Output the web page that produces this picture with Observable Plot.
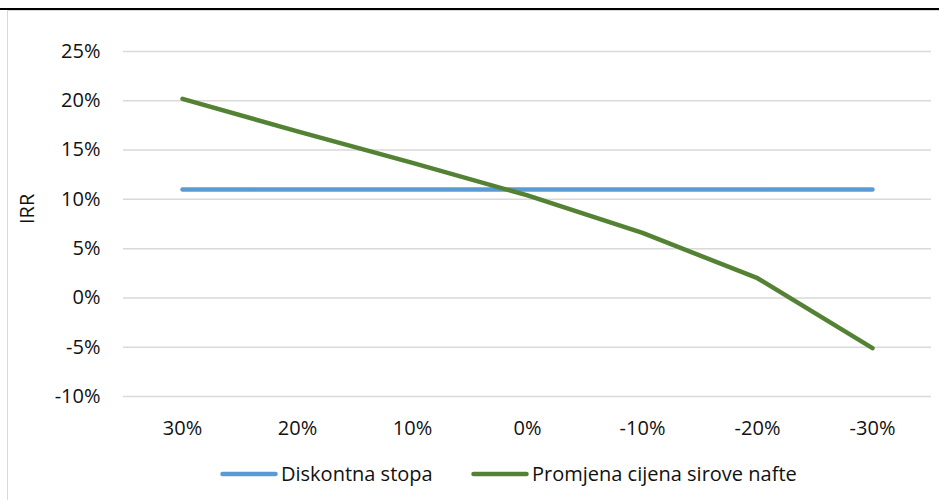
<!DOCTYPE html>
<html>
<head>
<meta charset="utf-8">
<script src="https://cdn.jsdelivr.net/npm/d3@7"></script>
<script src="https://cdn.jsdelivr.net/npm/@observablehq/plot@0.6"></script>
<style>
  html, body { margin: 0; padding: 0; background: #fff; }
  body { width: 939px; height: 500px; position: relative; overflow: hidden; font-family: "Open Sans", sans-serif; }
  #topline { position: absolute; left: 0; top: 8px; width: 939px; height: 2px; background: #000; }
  #box { position: absolute; left: 7px; top: 10px; width: 932px; height: 490px; border-top: 1.5px solid #d9d9d9; border-left: 1.5px solid #d9d9d9; box-sizing: border-box; }
  #chart { position: absolute; left: 0; top: 0; }
  .leg { position: absolute; top: 462px; display: flex; align-items: center; font-size: 20px; color: #111; white-space: nowrap; line-height: 24px; }
  .leg svg { display: block; margin-right: 3px; }
</style>
</head>
<body>
<div id="topline"></div>
<div id="box"></div>
<div id="chart"></div>
<div class="leg" id="leg1"></div>
<div class="leg" id="leg2"></div>
<script>
const categories = ["30%", "20%", "10%", "0%", "-10%", "-20%", "-30%"];
const diskontnaStopa = [11, 11, 11, 11, 11, 11, 11];
const promjenaCijene = [20.2, 16.9, 13.7, 10.4, 6.6, 2.0, -5.1];
const yTicks = [-10, -5, 0, 5, 10, 15, 20, 25];
const seriesNames = ["Diskontna stopa", "Promjena cijena sirove nafte"];
const seriesColors = ["#5b9bd5", "#548235"];

const rows = [];
categories.forEach((c, i) => {
  rows.push({cat: c, value: diskontnaStopa[i], series: seriesNames[0]});
});
categories.forEach((c, i) => {
  rows.push({cat: c, value: promjenaCijene[i], series: seriesNames[1]});
});

const chart = Plot.plot({
  width: 939,
  height: 450,
  marginTop: 51,
  marginBottom: 54,
  marginLeft: 123,
  marginRight: 8,
  style: {fontFamily: "Open Sans, sans-serif", fontSize: "20px", color: "#111", background: "transparent", overflow: "visible"},
  x: {type: "point", domain: categories, padding: 0.5},
  y: {domain: [-10, 25]},
  color: {domain: seriesNames, range: seriesColors},
  marks: [
    Plot.gridY(yTicks, {stroke: "#d9d9d9", strokeOpacity: 1, strokeWidth: 1.5}),
    Plot.axisY(yTicks, {tickSize: 0, tickPadding: 23, tickFormat: d => d + "%", label: null, fontSize: 20}),
    Plot.axisX({tickSize: 0, tickPadding: 24, label: null, fontSize: 20}),
    Plot.text(["IRR"], {frameAnchor: "left", dx: -96, rotate: -90, text: d => d, fontSize: 20, fill: "#111"}),
    Plot.line(rows, {x: "cat", y: "value", z: "series", stroke: "series", strokeWidth: 4.5, strokeLinecap: "round", strokeLinejoin: "round"})
  ]
});
document.getElementById("chart").appendChild(chart);

function legendItem(el, left, name, color) {
  el.style.left = left + "px";
  const sw = d3.create("svg").attr("width", 58).attr("height", 10);
  sw.append("line").attr("x1", 2.5).attr("x2", 55.5).attr("y1", 5).attr("y2", 5)
    .attr("stroke", color).attr("stroke-width", 4.5).attr("stroke-linecap", "round");
  el.appendChild(sw.node());
  const span = document.createElement("span");
  span.textContent = name;
  el.appendChild(span);
}
legendItem(document.getElementById("leg1"), 220, seriesNames[0], seriesColors[0]);
legendItem(document.getElementById("leg2"), 471, seriesNames[1], seriesColors[1]);
</script>
</body>
</html>
